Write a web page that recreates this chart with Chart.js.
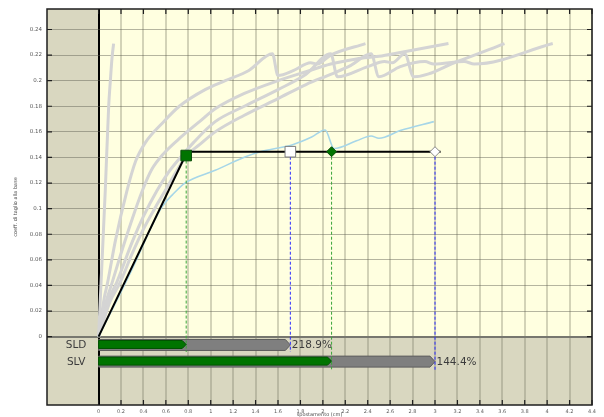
<!DOCTYPE html>
<html>
<head>
<meta charset="utf-8">
<script src="https://cdn.jsdelivr.net/npm/chart.js@4.4.1/dist/chart.umd.min.js"></script>
<style>
  html, body { margin: 0; padding: 0; background: #ffffff; }
  #wrap { width: 604px; height: 417px; }
</style>
</head>
<body>
<div id="wrap"><canvas id="chart" width="604" height="417"></canvas></div>
<script>
// ---- axis ticks ----
const xTicks = [0, 0.2, 0.4, 0.6, 0.8, 1, 1.2, 1.4, 1.6, 1.8, 2, 2.2, 2.4, 2.6, 2.8, 3, 3.2, 3.4, 3.6, 3.8, 4, 4.2, 4.4];
const yTicks = [0, 0.02, 0.04, 0.06, 0.08, 0.1, 0.12, 0.14, 0.16, 0.18, 0.2, 0.22, 0.24];

// ---- pushover curves [displacement (cm), base shear coefficient] ----
const pushoverA = [[0,0],[0.022,0.042],[0.06,0.115],[0.09,0.18],[0.105,0.2],[0.12,0.218],[0.134,0.229]];
const pushoverB = [[0,0],[0.05,0.03],[0.08,0.042],[0.15,0.075],[0.25,0.113],[0.33,0.137],[0.42,0.152],[0.57,0.167],[0.72,0.18],[0.95,0.193],[1.13,0.2],[1.34,0.208],[1.55,0.221],[1.6,0.204],[1.74,0.208],[1.89,0.214],[1.95,0.213],[2.07,0.22],[2.38,0.229]];
const pushoverC = [[0,0],[0.06,0.025],[0.12,0.042],[0.2,0.065],[0.3,0.092],[0.39,0.114],[0.47,0.13],[0.58,0.143],[0.71,0.154],[0.9,0.168],[1.04,0.178],[1.3,0.19],[1.6,0.2],[1.85,0.207],[2.07,0.213],[2.3,0.217],[2.5,0.219],[2.69,0.222],[3.12,0.229]];
const pushoverD = [[0,0],[0.08,0.027],[0.16,0.042],[0.3,0.074],[0.4,0.094],[0.52,0.114],[0.62,0.128],[0.72,0.139],[0.85,0.152],[1.04,0.168],[1.3,0.18],[1.6,0.193],[1.85,0.205],[2.07,0.221],[2.13,0.203],[2.4,0.211],[2.55,0.215],[2.62,0.214],[2.73,0.221],[2.81,0.203],[3.2,0.215],[3.62,0.229]];
const pushoverE = [[0,0],[0.1,0.027],[0.19,0.042],[0.3,0.065],[0.4,0.084],[0.5,0.1],[0.6,0.115],[0.7,0.13],[0.78,0.141],[0.9,0.15],[1.04,0.16],[1.3,0.173],[1.6,0.186],[1.85,0.197],[2.07,0.205],[2.25,0.212],[2.43,0.221],[2.5,0.203],[2.69,0.211],[2.91,0.215],[2.99,0.213],[3.26,0.215],[3.35,0.213],[4.05,0.229]];
const pushoverDesign = [[0,0],[0.3,0.053],[0.5,0.091],[0.57,0.102],[0.66,0.111],[0.77,0.12],[1.04,0.13],[1.31,0.1405],[1.44,0.1445],[1.73,0.15],[1.9,0.156],[2.02,0.1615],[2.1,0.147],[2.3,0.153],[2.43,0.1568],[2.5,0.155],[2.69,0.161],[2.99,0.168]];

// ---- equivalent bilinear system ----
const bilinear = [[0,0],[0.79,0.1445],[3.05,0.1445]];
const yieldPoint = [0.7812, 0.1415];
const plateau = 0.1445;

// ---- limit states: displacement demand and capacity (cm) ----
const limitStates = ['SLD', 'SLV'];
const demand = [0.7812, 2.0776];
const capacity = [1.71, 3.0];

const pts = arr => arr.map(([x, y]) => ({ x, y }));

// row centres of the limit-state bars, below the zero line
const rowCentre = [-0.0065, -0.0195];
const rowBottom = [-0.012, -0.0255];

const greyCurve = (arr) => ({
  data: pts(arr), borderColor: '#d4d4d4', borderWidth: 3, pointRadius: 0,
  cubicInterpolationMode: 'monotone', order: 5
});

const datasets = [
  greyCurve(pushoverA), greyCurve(pushoverB), greyCurve(pushoverC), greyCurve(pushoverD), greyCurve(pushoverE),
  { data: pts(pushoverDesign), borderColor: '#a6d6e8', borderWidth: 1.6, pointRadius: 0, cubicInterpolationMode: 'monotone', order: 4 },
  // vertical reference lines from the markers to the bars
  { data: [{x: demand[0], y: yieldPoint[1]}, {x: demand[0], y: rowBottom[0]}], borderColor: '#3aa53a', borderWidth: 1, borderDash: [3, 2], pointRadius: 0, order: 3 },
  { data: [{x: capacity[0], y: plateau}, {x: capacity[0], y: rowBottom[0]}], borderColor: '#2b2bff', borderWidth: 1, borderDash: [3, 2], pointRadius: 0, order: 3 },
  { data: [{x: demand[1], y: plateau}, {x: demand[1], y: rowBottom[1]}], borderColor: '#3aa53a', borderWidth: 1, borderDash: [3, 2], pointRadius: 0, order: 3 },
  { data: [{x: capacity[1], y: plateau}, {x: capacity[1], y: rowBottom[1] - 0.001}], borderColor: '#2b2bff', borderWidth: 1, borderDash: [3, 2], pointRadius: 0, order: 3 },
  { data: pts(bilinear), borderColor: '#000000', borderWidth: 2, pointRadius: 0, order: 2 },
  // markers
  { data: [{x: yieldPoint[0], y: yieldPoint[1]}], showLine: false, pointStyle: 'rect', pointRadius: 7.5, backgroundColor: '#007400', borderColor: '#0b4f0b', borderWidth: 1, order: 1 },
  { data: [{x: capacity[0], y: plateau}], showLine: false, pointStyle: 'rect', pointRadius: 7.5, backgroundColor: '#ffffff', borderColor: '#7d7d7d', borderWidth: 1, order: 1 },
  { data: [{x: demand[1], y: plateau}], showLine: false, pointStyle: 'rectRot', pointRadius: 5, backgroundColor: '#007400', borderColor: '#0b4f0b', borderWidth: 1, order: 1 },
  { data: [{x: capacity[1], y: plateau}], showLine: false, pointStyle: 'rectRot', pointRadius: 5, backgroundColor: '#ffffff', borderColor: '#8a8a8a', borderWidth: 1, order: 1 }
];

function arrowBar(ctx, x0, x1, top, bot, tip, fill, stroke) {
  ctx.beginPath();
  ctx.moveTo(x0, top);
  ctx.lineTo(x1 - tip, top);
  ctx.lineTo(x1, (top + bot) / 2);
  ctx.lineTo(x1 - tip, bot);
  ctx.lineTo(x0, bot);
  ctx.closePath();
  ctx.fillStyle = fill;
  ctx.fill();
  ctx.lineWidth = 1;
  ctx.strokeStyle = stroke;
  ctx.stroke();
}

const frame = {
  id: 'frame',
  beforeDraw(chart) {
    const { ctx, chartArea: a, scales: { x, y } } = chart;
    ctx.save();
    ctx.fillStyle = '#d9d7c0';
    ctx.fillRect(a.left, a.top, a.right - a.left, a.bottom - a.top);
    const x0 = x.getPixelForValue(0), y0 = y.getPixelForValue(0);
    ctx.fillStyle = '#ffffe0';
    ctx.fillRect(x0, a.top, a.right - x0, y0 - a.top);
    ctx.restore();
  },
  beforeDatasetsDraw(chart) {
    const { ctx, scales: { x, y } } = chart;
    ctx.save();
    const xs = x.getPixelForValue(0);
    limitStates.forEach((name, i) => {
      const yc = y.getPixelForValue(rowCentre[i]);
      const xd = x.getPixelForValue(demand[i]);
      const xc = x.getPixelForValue(capacity[i]);
      arrowBar(ctx, xs, xc, yc - 5.5, yc + 5.5, 5, '#7f7f7f', '#5e5e5e');
      arrowBar(ctx, xs, xd, yc - 4.5, yc + 3.5, 4, '#007400', '#005200');
      ctx.fillStyle = '#3c3c3c';
      ctx.font = '10.5px "DejaVu Sans", sans-serif';
      ctx.textBaseline = 'middle';
      ctx.textAlign = 'left';
      const ratio = (capacity[i] / demand[i] * 100).toFixed(1) + '%';
      ctx.fillText(ratio, xc + 1.5, yc + 0.5);
      ctx.textAlign = 'center';
      ctx.fillText(name, x.getPixelForValue(-0.2), yc + 0.5);
    });
    ctx.restore();
  },
  afterDraw(chart) {
    const { ctx, chartArea: a, scales: { x, y } } = chart;
    ctx.save();
    ctx.strokeStyle = '#1e1e1e';
    ctx.lineWidth = 1.5;
    ctx.strokeRect(a.left, a.top, a.right - a.left, a.bottom - a.top);
    ctx.lineWidth = 1.2;
    ctx.beginPath();
    xTicks.forEach(v => {
      const px = x.getPixelForValue(v);
      ctx.moveTo(px, a.top); ctx.lineTo(px, a.top + 5);
      ctx.moveTo(px, a.bottom); ctx.lineTo(px, a.bottom - 5);
    });
    yTicks.forEach(v => {
      const py = y.getPixelForValue(v);
      ctx.moveTo(a.left, py); ctx.lineTo(a.left + 5, py);
      ctx.moveTo(a.right, py); ctx.lineTo(a.right - 5, py);
    });
    ctx.stroke();
    ctx.restore();
  }
};

const fmt = v => String(+Number(v).toFixed(2));

new Chart(document.getElementById('chart'), {
  type: 'line',
  data: { datasets },
  plugins: [frame],
  options: {
    responsive: false,
    animation: false,
    devicePixelRatio: 1,
    layout: { padding: { top: 9, right: 12, left: 0, bottom: 0 } },
    plugins: { legend: { display: false }, tooltip: { enabled: false } },
    scales: {
      x: {
        type: 'linear', min: -0.46, max: 4.4,
        afterBuildTicks: s => { s.ticks = xTicks.map(v => ({ value: v })); },
        afterFit: s => { s.height = 12; },
        ticks: { autoSkip: false, maxRotation: 0, padding: 4, color: '#5a5a5a', font: { family: 'DejaVu Sans', size: 5 }, callback: fmt },
        grid: {
          drawTicks: false,
          color: c => (c.tick && c.tick.value === 0) ? '#000000' : 'rgba(120,120,100,0.33)',
          lineWidth: 2
        },
        border: { display: false },
        title: { display: true, text: 'spostamento (cm)', color: '#4a4a4a', font: { family: 'DejaVu Sans', size: 5 }, padding: { top: 0, bottom: -0.5 } }
      },
      y: {
        type: 'linear', min: -0.0534, max: 0.256,
        afterBuildTicks: s => { s.ticks = yTicks.map(v => ({ value: v })); },
        afterFit: s => { s.width = 47; },
        ticks: { padding: 5, color: '#5a5a5a', font: { family: 'DejaVu Sans', size: 5.5 }, callback: fmt },
        grid: {
          drawTicks: false,
          color: c => (c.tick && c.tick.value === 0) ? '#77776f' : 'rgba(90,90,80,0.45)',
          lineWidth: c => (c.tick && c.tick.value === 0) ? 2 : 1
        },
        border: { display: false },
        title: { display: true, text: 'coeff. di taglio alla base', color: '#4a4a4a', font: { family: 'DejaVu Sans', size: 5 }, padding: { top: 13, bottom: 0 } }
      }
    }
  }
});
</script>
</body>
</html>
